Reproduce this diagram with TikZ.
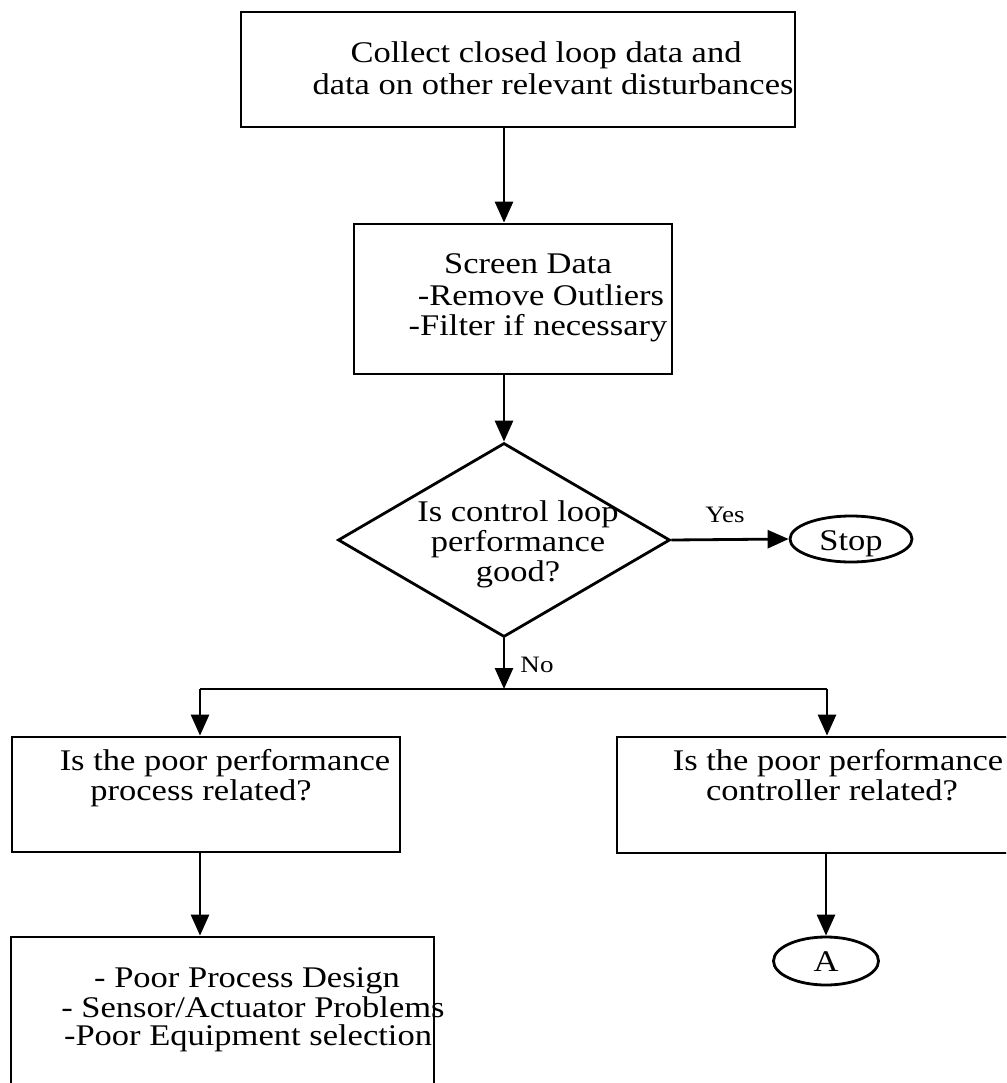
\documentclass[tikz,border=0pt]{standalone}
\usepackage{fontspec}
\setmainfont[FakeStretch=1.15]{Liberation Serif}
\usetikzlibrary{arrows.meta,shapes.geometric}
\tikzset{
  box/.style={draw, line width=2.8pt, rectangle, inner sep=0pt},
  dia/.style={draw, line width=2.8pt, diamond, inner sep=0pt},
  oval/.style={draw, line width=2.8pt, ellipse, inner sep=0pt},
  txt/.style={inner sep=0pt, anchor=base, font=\fontsize{30}{31}\selectfont},
  lbl/.style={inner sep=0pt, anchor=base, font=\fontsize{23.5}{26}\selectfont},
  conn/.style={line width=2.8pt},
  arr/.style={line width=2.8pt, -{Triangle[width=18pt,length=21pt]}},
}
\begin{document}
\begin{tikzpicture}[x=1pt,y=-1pt]
\useasboundingbox (0,0) rectangle (1006,1083);
\clip (0,0) rectangle (1006,1083);
% shapes
\node[box, minimum width=554pt, minimum height=115pt] (b1) at (518,69.5) {};
\node[box, minimum width=318pt, minimum height=150pt] (b2) at (513,299) {};
\node[dia, minimum width=332pt, minimum height=194pt] (d) at (504,540) {};
\node[oval, minimum width=122pt, minimum height=46pt] (stop) at (851,539) {};
\node[box, minimum width=388pt, minimum height=115pt] (b3) at (206,794.5) {};
\node[box, minimum width=423pt, minimum height=116pt] (b4) at (828.5,795) {};
\node[box, minimum width=423pt, minimum height=163pt] (b5) at (222.5,1018.5) {};
\node[oval, minimum width=105pt, minimum height=48pt] (A) at (826,961) {};
\coordinate (j) at (504,689);
\coordinate (jl) at (200,689);
\coordinate (jr) at (827,689);
% connectors
\draw[arr] (d.north |- b1.south) -- (d.north |- b2.north);
\draw[arr] (d.north |- b2.south) -- (d.north);
\draw[arr] (d.east) -- (stop.west);
\draw[arr] (d.south) -- (j);
\draw[conn] (jl) -- (jr);
\draw[arr] (jl) -- (jl |- b3.north);
\draw[arr] (jr) -- (jr |- b4.north);
\draw[arr] (jl |- b3.south) -- (jl |- b5.north);
\draw[arr] (A.north |- b4.south) -- (A.north);
% texts
\node[txt] (t1a) at (546,63) {Collect closed loop data and};
\node[txt] (t1b) at (553,95) {data on other relevant disturbances};
\node[txt] (t2a) at (528,273) {Screen Data};
\node[txt] (t2b) at (541,305) {-Remove Outliers};
\node[txt] (t2c) at (538,335) {-Filter if necessary};
\node[txt] (t3a) at (518,521) {Is control loop};
\node[txt] (t3b) at (518,551) {performance};
\node[txt] (t3c) at (518,581) {good?};
\node[lbl] (yes) at (725,522) {Yes};
\node[lbl] (no) at (537,672) {No};
\node[txt] (ts) at (851,550) {Stop};
\node[txt] (t4a) at (225,770) {Is the poor performance};
\node[txt] (t4b) at (201,800) {process related?};
\node[txt] (t5a) at (838,770) {Is the poor performance};
\node[txt] (t5b) at (832,800) {controller related?};
\node[txt] (t6a) at (247,987) {- Poor Process Design};
\node[txt] (t6b) at (253,1017) {- Sensor/Actuator Problems};
\node[txt] (t6c) at (248,1045) {-Poor Equipment selection};
\node[txt] (ta) at (826,971) {A};
\end{tikzpicture}
\end{document}
